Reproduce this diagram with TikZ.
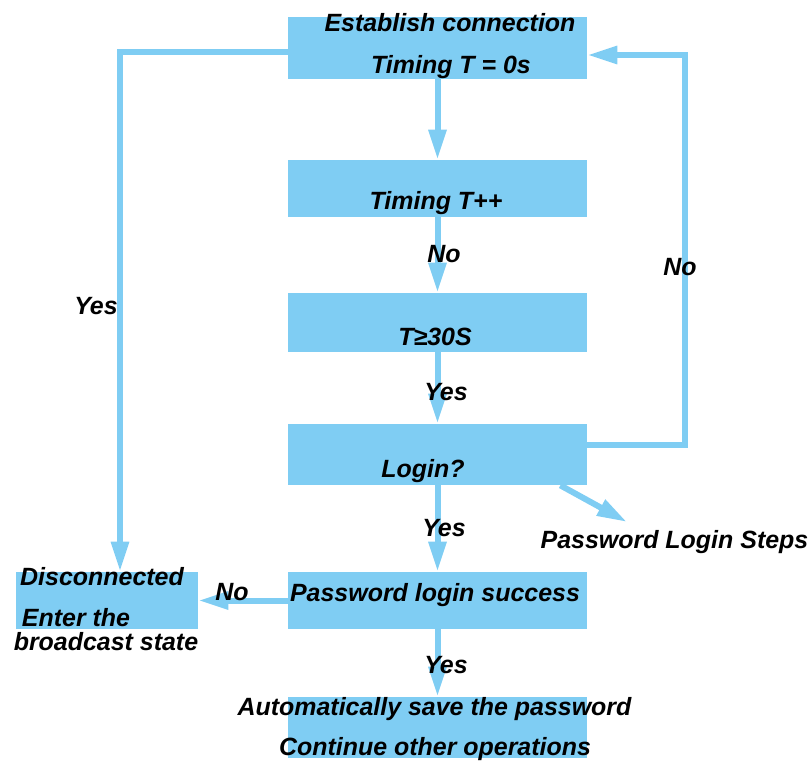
\documentclass[tikz,border=0pt]{standalone}
\usepackage{fontspec}
\setmainfont{Liberation Sans}
\usetikzlibrary{arrows.meta}
\definecolor{flowblue}{RGB}{127,205,243}
\begin{document}
\begin{tikzpicture}[
  box/.style={fill=flowblue, minimum width=5.98cm, minimum height=1.2cm, inner sep=0pt},
  txt/.style={anchor=base, inner sep=0pt, font=\fontsize{14.2}{17}\selectfont\bfseries\itshape},
  flow/.style={draw=flowblue, line width=0.12cm, -{Triangle[length=0.6cm,width=0.34cm]}},
  wire/.style={draw=flowblue, line width=0.12cm}]
  \useasboundingbox (0,0) rectangle (16.22,-15.24);
  % boxes
  \node[box, minimum height=1.24cm] (connect) at (8.75,-0.96) {};
  \node[box, minimum height=1.14cm] (count) at (8.75,-3.77) {};
  \node[box, minimum height=1.18cm] (limit) at (8.75,-6.45) {};
  \node[box, minimum height=1.22cm] (login) at (8.75,-9.09) {};
  \node[box, minimum height=1.14cm] (success) at (8.75,-12.01) {};
  \node[box, minimum height=1.22cm] (save) at (8.75,-14.55) {};
  \node[box, minimum width=3.64cm, minimum height=1.14cm] (discon) at (2.14,-12.01) {};
  % texts
  \node[txt] (connecta) at (9.0,-0.62) {Establish connection};
  \node[txt] (connectb) at (9.02,-1.46) {Timing T = 0s};
  \node[txt] (countt) at (8.72,-4.18) {Timing T++};
  \node[txt] (limitt) at (8.70,-6.9) {T≥30S};
  \node[txt] (logint) at (8.46,-9.54) {Login?};
  \node[txt] (successt) at (8.70,-12.02) {Password login success};
  \node[txt] (savea) at (8.69,-14.3) {Automatically save the password};
  \node[txt] (saveb) at (8.70,-15.1) {Continue other operations};
  \node[txt] (discona) at (2.04,-11.7) {Disconnected};
  \node[txt] (disconb) at (1.52,-12.52) {Enter the};
  \node[txt] (disconc) at (2.12,-13.0) {broadcast state};
  \node[txt] (steps) at (13.49,-10.96) {Password Login Steps};
  % arrows
  \draw[flow] (connect) -- (count);
  \draw[flow] (count) -- (limit);
  \draw[flow] (limit) -- (login);
  \draw[flow] (login) -- (success);
  \draw[flow] (success) -- (save);
  \draw[flow] (success) -- (discon);
  \coordinate (loopR) at (13.7,-1.1);
  \draw[flow] ([yshift=0.19cm]login.east) -| (loopR) -- ([yshift=-0.14cm]connect.east);
  \draw[flow] ([yshift=-0.08cm]connect.west) -| ([xshift=0.26cm]discon.north);
  \coordinate (stepsin) at (12.54,-10.44);
  \draw[flow] ([xshift=-0.54cm]login.south east) -- (stepsin);
  % labels
  \node[txt] (no1) at (8.88,-5.24) {No};
  \node[txt] (yes1) at (8.92,-8.0) {Yes};
  \node[txt] (yes2) at (8.88,-10.72) {Yes};
  \node[txt] (yes3) at (8.92,-13.46) {Yes};
  \node[txt] (no2) at (13.6,-5.5) {No};
  \node[txt] (yes4) at (1.92,-6.28) {Yes};
  \node[txt] (no3) at (4.64,-12.0) {No};
\end{tikzpicture}
\end{document}
